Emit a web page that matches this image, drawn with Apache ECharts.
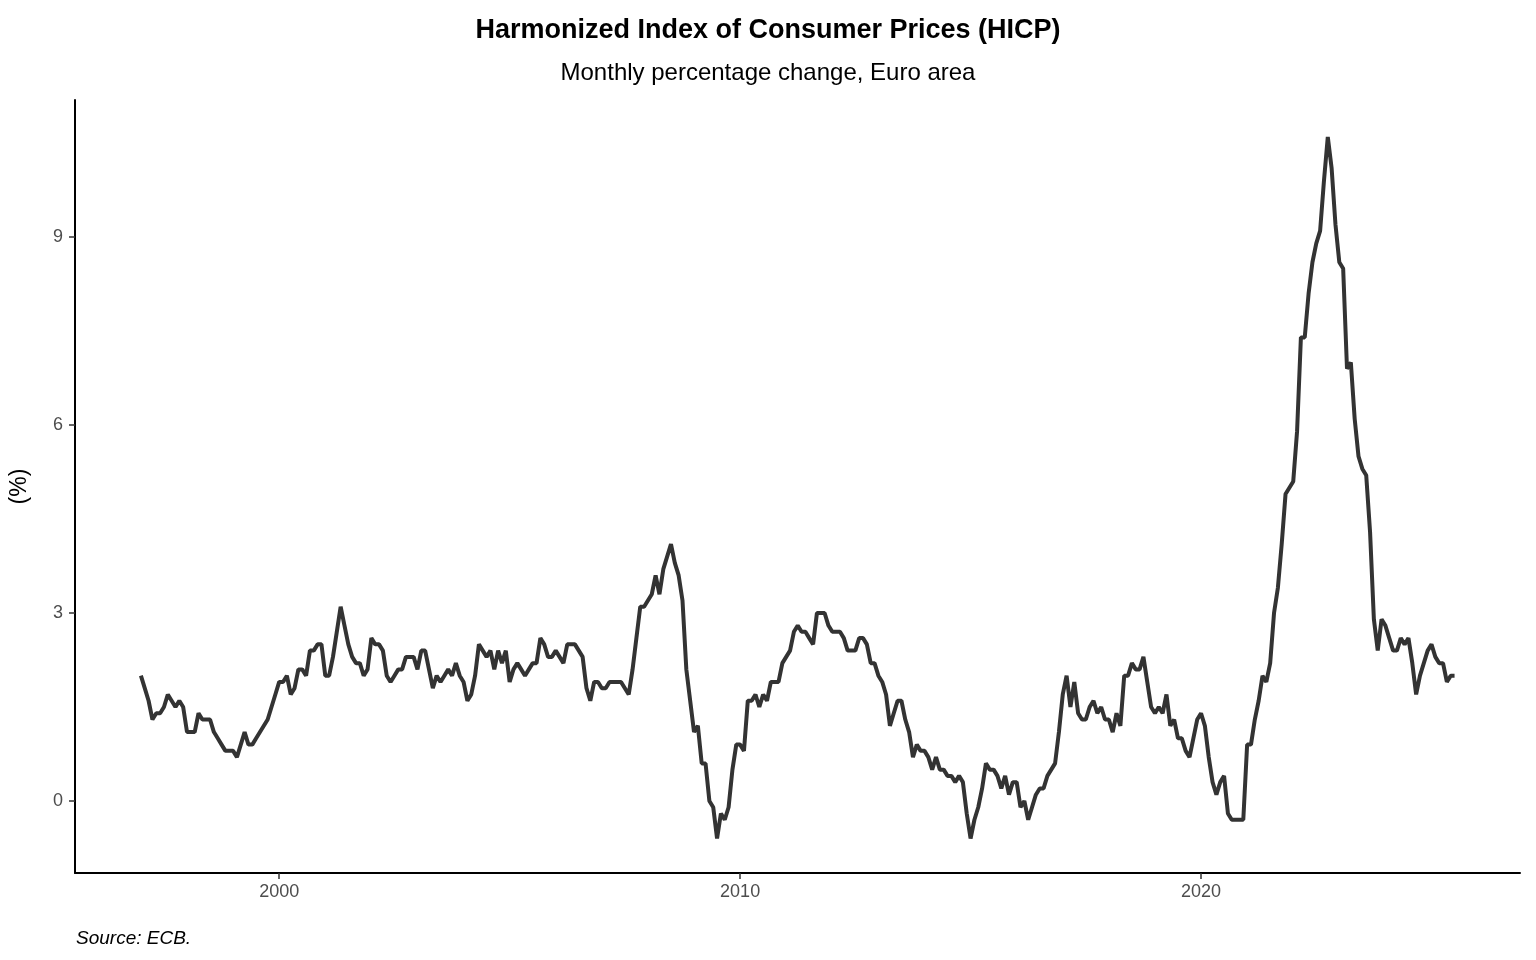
<!DOCTYPE html>
<html><head><meta charset="utf-8">
<script src="https://cdn.jsdelivr.net/npm/echarts@6/dist/echarts.min.js"></script>
<style>html,body{margin:0;padding:0;background:#fff}#c{width:1536px;height:960px}</style>
</head><body><div id="c"></div>
<script>
const startYear = 1997;
const hicp = [
2.0,1.8,1.6,1.3,1.4,1.4,1.5,1.7,1.6,1.5,1.6,1.5,
1.1,1.1,1.1,1.4,1.3,1.3,1.3,1.1,1.0,0.9,0.8,0.8,
0.8,0.7,0.9,1.1,0.9,0.9,1.0,1.1,1.2,1.3,1.5,1.7,
1.9,1.9,2.0,1.7,1.8,2.1,2.1,2.0,2.4,2.4,2.5,2.5,
2.0,2.0,2.3,2.7,3.1,2.8,2.5,2.3,2.2,2.2,2.0,2.1,
2.6,2.5,2.5,2.4,2.0,1.9,2.0,2.1,2.1,2.3,2.3,2.3,
2.1,2.4,2.4,2.1,1.8,2.0,1.9,2.0,2.1,2.0,2.2,2.0,
1.9,1.6,1.7,2.0,2.5,2.4,2.3,2.4,2.1,2.4,2.2,2.4,
1.9,2.1,2.2,2.1,2.0,2.1,2.2,2.2,2.6,2.5,2.3,2.3,
2.4,2.3,2.2,2.5,2.5,2.5,2.4,2.3,1.8,1.6,1.9,1.9,
1.8,1.8,1.9,1.9,1.9,1.9,1.8,1.7,2.1,2.6,3.1,3.1,
3.2,3.3,3.6,3.3,3.7,3.9,4.1,3.8,3.6,3.2,2.1,1.6,
1.1,1.2,0.6,0.6,0.0,-0.1,-0.6,-0.2,-0.3,-0.1,0.5,0.9,
0.9,0.8,1.6,1.6,1.7,1.5,1.7,1.6,1.9,1.9,1.9,2.2,
2.3,2.4,2.7,2.8,2.7,2.7,2.6,2.5,3.0,3.0,3.0,2.8,
2.7,2.7,2.7,2.6,2.4,2.4,2.4,2.6,2.6,2.5,2.2,2.2,
2.0,1.9,1.7,1.2,1.4,1.6,1.6,1.3,1.1,0.7,0.9,0.8,
0.8,0.7,0.5,0.7,0.5,0.5,0.4,0.4,0.3,0.4,0.3,-0.2,
-0.6,-0.3,-0.1,0.2,0.6,0.5,0.5,0.4,0.2,0.4,0.1,0.3,
0.3,-0.1,0.0,-0.3,-0.1,0.1,0.2,0.2,0.4,0.5,0.6,1.1,
1.7,2.0,1.5,1.9,1.4,1.3,1.3,1.5,1.6,1.4,1.5,1.3,
1.3,1.1,1.4,1.2,2.0,2.0,2.2,2.1,2.1,2.3,1.9,1.5,
1.4,1.5,1.4,1.7,1.2,1.3,1.0,1.0,0.8,0.7,1.0,1.3,
1.4,1.2,0.7,0.3,0.1,0.3,0.4,-0.2,-0.3,-0.3,-0.3,-0.3,
0.9,0.9,1.3,1.6,2.0,1.9,2.2,3.0,3.4,4.1,4.9,5.0,
5.1,5.9,7.4,7.4,8.1,8.6,8.9,9.1,9.9,10.6,10.1,9.2,
8.6,8.5,6.9,7.0,6.1,5.5,5.3,5.2,4.3,2.9,2.4,2.9,
2.8,2.6,2.4,2.4,2.6,2.5,2.6,2.2,1.7,2.0,2.2,2.4,
2.5,2.3,2.2,2.2,1.9,2.0,2.0
];
const xTicks = [2000, 2010, 2020];
const yTicks = [0, 3, 6, 9];
const points = hicp.map((v, i) => [startYear + i / 12, v]);
const chart = echarts.init(document.getElementById('c'));
chart.setOption({
  animation: false,
  title: [
    {text: 'Harmonized Index of Consumer Prices (HICP)', left: 'center', top: 12,
     textStyle: {fontFamily: 'Liberation Sans', fontWeight: 'bold', fontSize: 27, color: '#000'}},
    {text: 'Monthly percentage change, Euro area', left: 'center', top: 56,
     textStyle: {fontFamily: 'Liberation Sans', fontWeight: 'normal', fontSize: 24, color: '#000'}},
    {text: 'Source: ECB.', left: 71, top: 924,
     textStyle: {fontFamily: 'Liberation Sans', fontStyle: 'italic', fontWeight: 'normal', fontSize: 19, color: '#000'}}
  ],
  grid: {left: 75, right: 16, top: 100, bottom: 87},
  xAxis: {type: 'value', min: 1995.57, max: 2026.92,
    axisLine: {onZero: false, lineStyle: {color: '#000', width: 2}},
    axisTick: {customValues: xTicks, length: 6, lineStyle: {color: '#333', width: 1.5}},
    axisLabel: {customValues: xTicks, formatter: v => String(v), color: '#4d4d4d', fontSize: 18, fontFamily: 'Liberation Sans', margin: 10},
    splitLine: {show: false}},
  yAxis: {type: 'value', min: -1.15, max: 11.19, name: '(%)', nameLocation: 'middle', nameGap: 44,
    nameTextStyle: {fontSize: 23, fontFamily: 'Liberation Sans', color: '#000'},
    axisLine: {show: true, onZero: false, lineStyle: {color: '#000', width: 2}},
    axisTick: {show: true, customValues: yTicks, length: 6, lineStyle: {color: '#333', width: 1.5}},
    axisLabel: {customValues: yTicks, color: '#4d4d4d', fontSize: 18, fontFamily: 'Liberation Sans', margin: 12},
    splitLine: {show: false}},
  series: [{type: 'line', data: points, showSymbol: false,
    lineStyle: {color: '#333333', width: 4}}]
});
</script></body></html>
